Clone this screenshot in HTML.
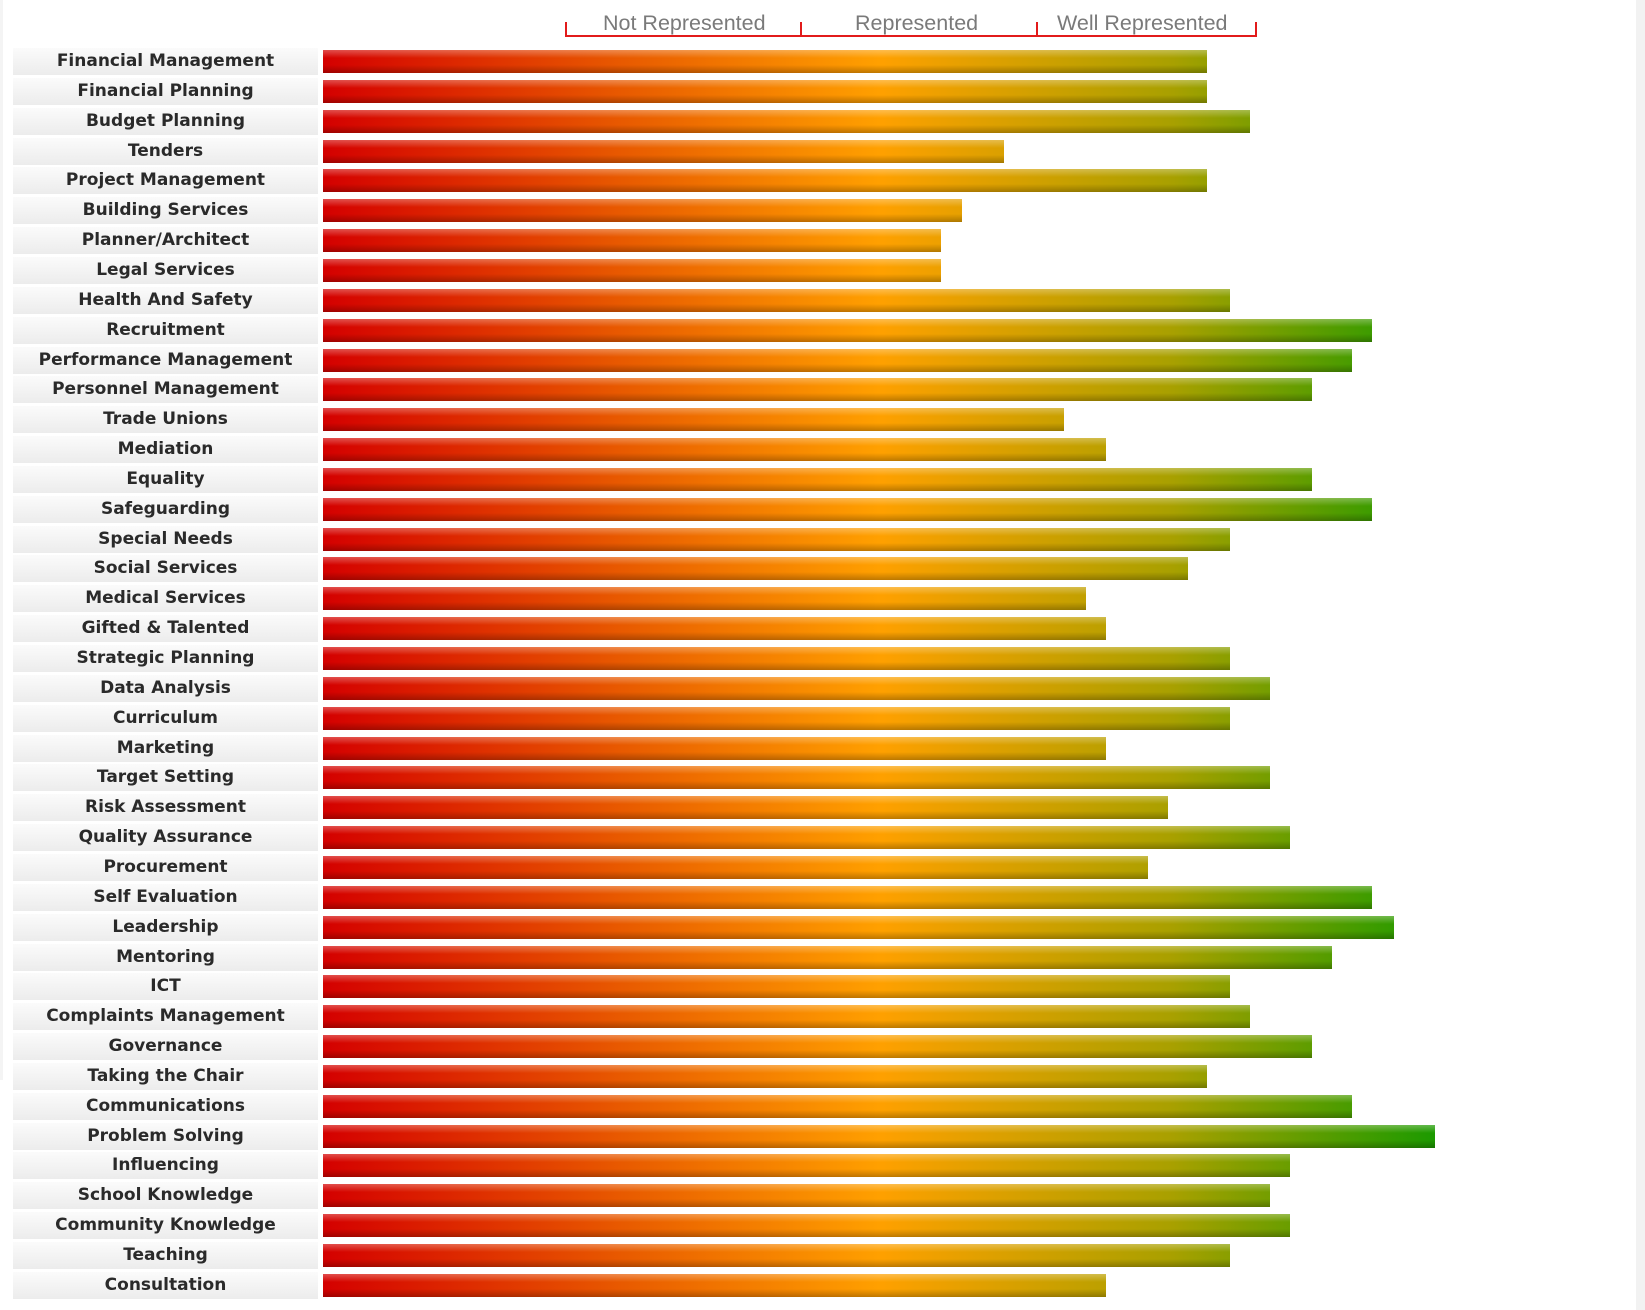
<!DOCTYPE html>
<html><head><meta charset="utf-8"><style>
body{margin:0;width:1645px;height:1310px;background:#fff;position:relative;overflow:hidden;font-family:"Liberation Sans",sans-serif}
.r{position:absolute;right:0;top:0;width:9px;height:1310px;background:#f2f2f2}
.l{position:absolute;left:0;top:0;width:3px;height:1080px;background:#f4f4f4}
.lab{position:absolute;left:13px;width:305px;height:27px;background:linear-gradient(#fbfbfb,#ececec);color:#2a2a2a;font-weight:bold;line-height:27px;text-align:center;font-family:"DejaVu Sans","Liberation Sans",sans-serif;font-size:17px;letter-spacing:0px}
.bar{position:absolute;left:323px;height:23px;background:linear-gradient(rgba(255,255,255,.3),rgba(255,255,255,0) 35%,rgba(0,0,0,0) 65%,rgba(0,0,0,.25)),linear-gradient(90deg,#d40000 0px,#e85a00 300px,#ffa000 556px,#a8a000 850px,#1c9a00 1112px);background-size:100% 100%,1112px 100%;background-repeat:no-repeat}
.h{position:absolute;top:11px;color:#7a7a7a;font-size:21.5px}
.ln{position:absolute;background:#e21b1b}
</style></head><body>
<div class="l"></div><div class="r"></div>
<div class="h" style="left:603px">Not Represented</div>
<div class="h" style="left:855px">Represented</div>
<div class="h" style="left:1057px">Well Represented</div>
<div class="ln" style="left:565px;top:35px;width:692px;height:2px"></div>
<div class="ln" style="left:565px;top:22px;width:2px;height:15px"></div>
<div class="ln" style="left:800px;top:22px;width:2px;height:15px"></div>
<div class="ln" style="left:1036px;top:22px;width:2px;height:15px"></div>
<div class="ln" style="left:1255px;top:22px;width:2px;height:15px"></div>
<div id="c"></div>
<script>
var d=[["Financial Management",1207],["Financial Planning",1207],["Budget Planning",1250],["Tenders",1004],["Project Management",1207],["Building Services",962],["Planner/Architect",941],["Legal Services",941],["Health And Safety",1230],["Recruitment",1372],["Performance Management",1352],["Personnel Management",1312],["Trade Unions",1064],["Mediation",1106],["Equality",1312],["Safeguarding",1372],["Special Needs",1230],["Social Services",1188],["Medical Services",1086],["Gifted & Talented",1106],["Strategic Planning",1230],["Data Analysis",1270],["Curriculum",1230],["Marketing",1106],["Target Setting",1270],["Risk Assessment",1168],["Quality Assurance",1290],["Procurement",1148],["Self Evaluation",1372],["Leadership",1394],["Mentoring",1332],["ICT",1230],["Complaints Management",1250],["Governance",1312],["Taking the Chair",1207],["Communications",1352],["Problem Solving",1435],["Influencing",1290],["School Knowledge",1270],["Community Knowledge",1290],["Teaching",1230],["Consultation",1106]];
var h="";d.forEach(function(e,i){var t=Math.round(50+29.85*i);
h+='<div class="lab" style="top:'+(t-2)+'px">'+e[0].replace("&","&amp;")+'</div><div class="bar" style="top:'+t+'px;width:'+(e[1]-323)+'px"></div>';});
document.getElementById("c").innerHTML=h;
</script>
</body></html>
